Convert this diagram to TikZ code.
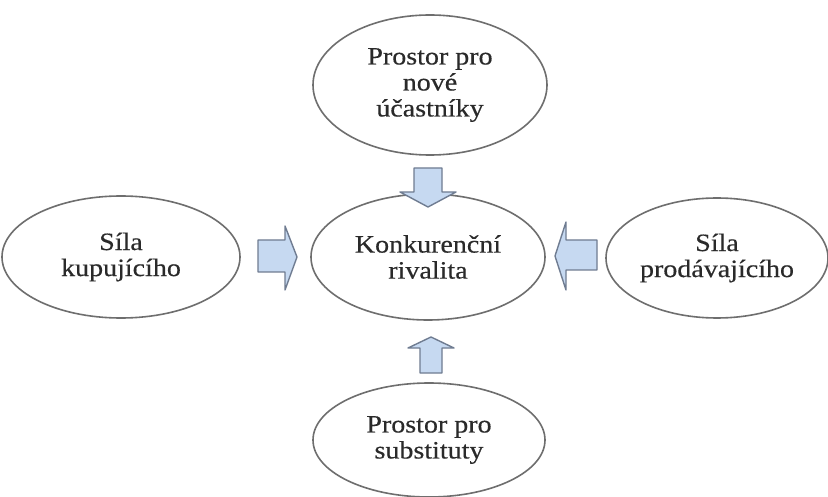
\documentclass[tikz,border=0pt]{standalone}
\usepackage{fontspec}
\setmainfont{Liberation Serif}[FakeStretch=1.12, FakeBold=0.4]
\usetikzlibrary{shapes.geometric}
\definecolor{rimgray}{HTML}{6E6E6E}
\definecolor{arrowfill}{HTML}{C6D9F1}
\definecolor{arrowrim}{HTML}{6F7C91}
\definecolor{inktext}{HTML}{2A2A2A}
\tikzset{
  force/.style={ellipse, draw=rimgray, line width=1.6pt, fill=white,
    inner sep=0pt, align=center, text=inktext,
    font=\fontsize{25}{26}\selectfont},
  blockarrow/.style={draw=arrowrim, fill=arrowfill, line width=1.4pt,
    line join=round}
}
\begin{document}
\begin{tikzpicture}[x=1pt, y=-1pt]
\useasboundingbox (0,0) rectangle (828,497);
\fill[white] (0,0) rectangle (828,497);

% the five forces
\node[force, minimum width=234pt, minimum height=140pt] (entry) at (430,85)
  {Prostor pro\\nové\\účastníky};
\node[force, minimum width=238pt, minimum height=122pt] (buyer) at (121,257)
  {Síla\\kupujícího};
\node[force, minimum width=234pt, minimum height=126pt] (rival) at (428,257)
  {Konkurenční\\rivalita};
\node[force, minimum width=222pt, minimum height=120pt] (seller) at (717,258)
  {Síla\\prodávajícího};
\node[force, minimum width=232pt, minimum height=114pt] (subst) at (429,440)
  {Prostor pro\\substituty};

% block arrows pointing at the rivalry
\draw[blockarrow] (414,168) -- (442,168) -- (442,192) -- (456,192) -- (428,207)
  -- (400,192) -- (414,192) -- cycle;
\draw[blockarrow] (420,373) -- (442,373) -- (442,348) -- (454,348) -- (431,337)
  -- (408,348) -- (420,348) -- cycle;
\draw[blockarrow] (258,240) -- (285,240) -- (285,226) -- (297,257) -- (285,290)
  -- (285,272) -- (258,272) -- cycle;
\draw[blockarrow] (597,240) -- (566,240) -- (566,222) -- (555,256) -- (566,290)
  -- (566,270) -- (597,270) -- cycle;
\end{tikzpicture}
\end{document}
